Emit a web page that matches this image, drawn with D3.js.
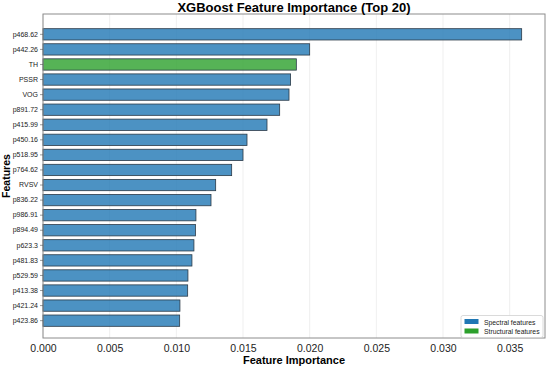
<!DOCTYPE html>
<html>
<head>
<meta charset="utf-8">
<script src="https://cdn.jsdelivr.net/npm/d3@7"></script>
<style>
body { margin: 0; background: #fff; }
text { font-family: "Liberation Sans", Arial, sans-serif; }
</style>
</head>
<body>
<div id="chart"></div>
<script>
// donnees
var features = ["p468.62", "p442.26", "TH", "PSSR", "VOG", "p891.72", "p415.99", "p450.16", "p518.95", "p764.62",
	"RVSV", "p836.22", "p986.91", "p894.49", "p623.3", "p481.83", "p529.59", "p413.38", "p421.24", "p423.86"];
var importance = [0.0359, 0.0200, 0.0190, 0.01857, 0.01845, 0.01775, 0.0168, 0.0153, 0.0150, 0.01415,
	0.01295, 0.0126, 0.01147, 0.01143, 0.01132, 0.01117, 0.01087, 0.01085, 0.01027, 0.01025];
var structuralColored = ["TH"];
var xTicks = [0, 0.005, 0.010, 0.015, 0.020, 0.025, 0.030, 0.035];

var width = 550, height = 368;
var mLeft = 43, mRight = 545, mTop = 14, mBottom = 338;

var svg = d3.select("#chart").append("svg")
	.attr("width", width)
	.attr("height", height);

var x = d3.scaleLinear().domain([0, 0.03765]).range([mLeft, mRight]);
var y = d3.scaleBand().domain(features).range([26.8, 328.2]).paddingInner(0.25).paddingOuter(0.125);

// grille verticale
svg.append("g").selectAll("line")
	.data(xTicks)
	.enter().append("line")
	.attr("x1", d => x(d)).attr("x2", d => x(d))
	.attr("y1", mTop).attr("y2", mBottom)
	.attr("stroke", "#ebebeb")
	.attr("stroke-width", 0.8);

// barres
svg.append("g").selectAll("rect")
	.data(features)
	.enter().append("rect")
	.attr("x", x(0))
	.attr("y", d => y(d))
	.attr("width", (d, i) => x(importance[i]) - x(0))
	.attr("height", y.bandwidth())
	.attr("fill", d => structuralColored.indexOf(d) >= 0 ? "#2ca02c" : "#1f77b4")
	.attr("fill-opacity", 0.8)
	.attr("stroke", "#2b3a47")
	.attr("stroke-width", 0.8);

// cadre
svg.append("rect")
	.attr("x", mLeft).attr("y", mTop)
	.attr("width", mRight - mLeft).attr("height", mBottom - mTop)
	.attr("fill", "none")
	.attr("stroke", "#8c8c8c")
	.attr("stroke-width", 1);

// axe x
var xAxis = svg.append("g")
	.attr("transform", "translate(0," + mBottom + ")")
	.call(d3.axisBottom(x).tickValues(xTicks).tickFormat(d3.format(".3f")).tickSize(0).tickPadding(7));
xAxis.select(".domain").remove();
xAxis.selectAll("text").attr("font-size", "10.5px").attr("fill", "#222");

// axe y
var yAxis = svg.append("g")
	.attr("transform", "translate(" + mLeft + ",0)")
	.call(d3.axisLeft(y).tickSize(3).tickPadding(2));
yAxis.select(".domain").remove();
yAxis.selectAll("line").attr("stroke", "#555").attr("stroke-width", 0.6);
yAxis.selectAll("text").attr("font-size", "7px").attr("fill", "#222");

// titres
svg.append("text")
	.text("XGBoost Feature Importance (Top 20)")
	.attr("x", (mLeft + mRight) / 2)
	.attr("y", 12)
	.attr("text-anchor", "middle")
	.attr("font-size", "13px")
	.attr("font-weight", "bold");

svg.append("text")
	.text("Feature Importance")
	.attr("x", (mLeft + mRight) / 2)
	.attr("y", 364)
	.attr("text-anchor", "middle")
	.attr("font-size", "11px")
	.attr("font-weight", "bold");

svg.append("text")
	.text("Features")
	.attr("transform", "translate(9.5," + ((mTop + mBottom) / 2) + ")rotate(-90)")
	.attr("text-anchor", "middle")
	.attr("font-size", "10.5px")
	.attr("font-weight", "bold");

// legende
var legendItems = [
	{name: "Spectral features", color: "#1f77b4"},
	{name: "Structural features", color: "#2ca02c"}
];
var lg = svg.append("g");
lg.append("rect")
	.attr("x", 461).attr("y", 315.5)
	.attr("width", 82).attr("height", 22)
	.attr("rx", 2)
	.attr("fill", "#fff")
	.attr("fill-opacity", 0.9)
	.attr("stroke", "#d0d0d0")
	.attr("stroke-width", 0.8);
lg.selectAll("g.item")
	.data(legendItems)
	.enter().append("g")
	.attr("class", "item")
	.each(function (d, i) {
		var g = d3.select(this);
		g.append("rect")
			.attr("x", 464.5).attr("y", 319 + i * 9.5)
			.attr("width", 14).attr("height", 5)
			.attr("fill", d.color);
		g.append("text")
			.text(d.name)
			.attr("x", 484).attr("y", 324.5 + i * 9.5)
			.attr("font-size", "6.8px")
			.attr("fill", "#222");
	});
</script>
</body>
</html>
